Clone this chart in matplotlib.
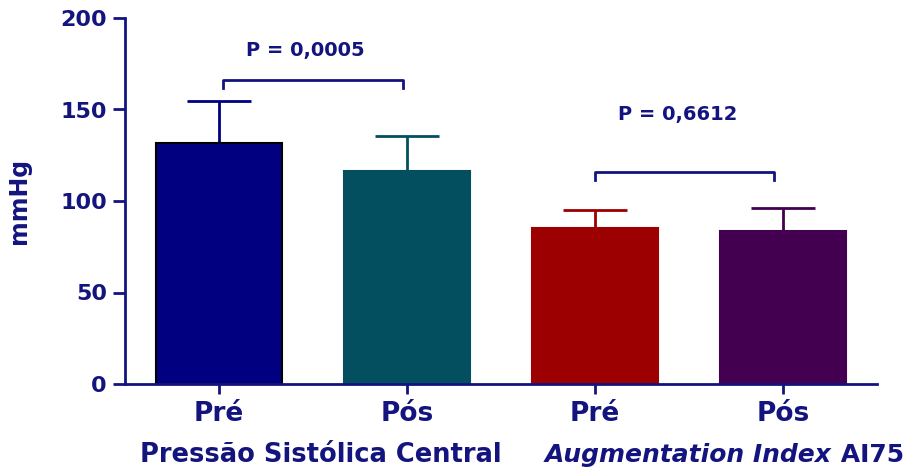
import matplotlib
matplotlib.use("Agg")
import matplotlib.pyplot as plt
import numpy as np

# data
groups = ["Pré", "Pós", "Pré", "Pós"]
means = [131.5, 116.5, 85, 83.5]
upper_err = [23, 19, 10, 12.5]
bar_colors = ["#000080", "#034f5f", "#9c0000", "#430050"]
edge_colors = ["black", "#034f5f", "#9c0000", "#430050"]
p_labels = ["P = 0,0005", "P = 0,6612"]

navy = "#14147f"
plt.rcParams["font.family"] = ["DejaVu Sans"]
plt.rcParams["font.weight"] = "bold"

fig = plt.figure(figsize=(9.08, 4.73), dpi=100)
ax = fig.add_axes([125/908, 1-384/473, (877-125)/908, (384-18)/473])

x = np.arange(len(groups))
ax.bar(x, means, width=0.675, color=bar_colors, edgecolor=edge_colors, linewidth=1.5, zorder=2)
for xi, m, e, c in zip(x, means, upper_err, bar_colors):
    ax.errorbar(xi, m, yerr=[[0], [e]], color=c, capsize=23, elinewidth=2, capthick=2, zorder=1)

ax.set_xlim(-0.5, 3.5)
ax.set_ylim(0, 200)
ax.set_yticks([0, 50, 100, 150, 200])
ax.set_xticks(x)
ax.set_xticklabels(groups, fontsize=19, fontweight="bold", color=navy)
for lab in ax.get_yticklabels():
    lab.set_fontsize(16)
    lab.set_fontweight("bold")
    lab.set_color(navy)

for s in ["top", "right"]:
    ax.spines[s].set_visible(False)
for s in ["left", "bottom"]:
    ax.spines[s].set_color(navy)
    ax.spines[s].set_linewidth(2)
ax.tick_params(axis="y", length=9, width=2, color=navy, pad=4)
ax.tick_params(axis="x", length=7, width=2, color=navy, pad=5)

ax.set_ylabel("mmHg", fontsize=17, fontweight="bold", color=navy, labelpad=21)

# significance brackets
def bracket(x0, x1, y, h, label, tx, ty):
    ax.plot([x0, x0, x1, x1], [y - h, y, y, y - h], color=navy, lw=2, clip_on=False)
    ax.text(tx, ty, label, ha="center", va="center", fontsize=14, fontweight="bold", color=navy)

bracket(0.02, 0.98, 166, 4.5, p_labels[0], 0.46, 182)
bracket(2.0, 2.95, 116, 4.5, p_labels[1], 2.44, 147)

# group labels
fig.text(321/908, 1-455/473, "Pressão Sistólica Central", ha="center", va="center",
         fontsize=18.5, fontweight="bold", color=navy)
t1 = fig.text(545/908, 1-455/473, "Augmentation Index", ha="left", va="center",
              fontsize=18, fontweight="bold", style="italic", color=navy)
ax.annotate(" AI75", xy=(1, 0), xycoords=t1, ha="left", va="bottom",
            fontsize=18, fontweight="bold", color=navy, annotation_clip=False)

fig.savefig("out.png", dpi=100)
